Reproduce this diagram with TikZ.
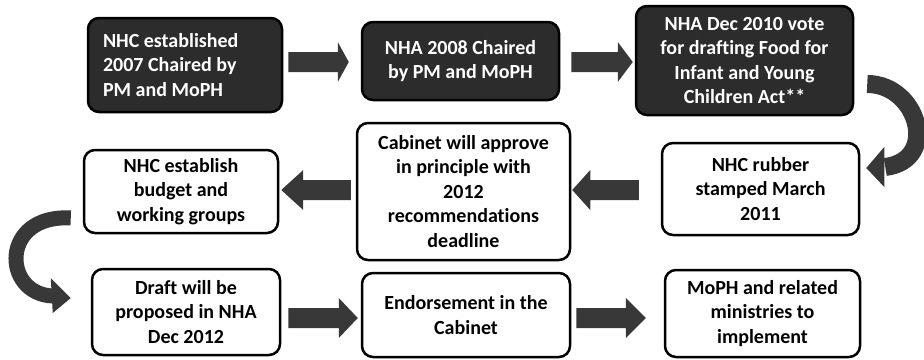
\documentclass[tikz,border=0pt]{standalone}
\usepackage{fontspec}
\setmainfont{Carlito}[Ligatures=NoCommon]
\usetikzlibrary{calc}
\definecolor{darkbox}{HTML}{2C2C2C}
\definecolor{arrowfill}{HTML}{383838}
\tikzset{
  box/.style={rectangle, rounded corners=11pt, line width=2.5pt, draw=black,
    align=center, font=\bfseries\fontsize{20}{24.5}\selectfont, inner sep=0pt},
  darkbox/.style={box, fill=darkbox, text=white},
  whitebox/.style={box, fill=white, text=black},
  band/.style={draw=arrowfill, line width=#1, line cap=butt},
  headfill/.style={fill=arrowfill},
}
\newcommand\harrow[3]{%
  \fill[arrowfill] let \p1=(#1), \p2=(#2), \p3=($(#2)!#3!(#1)$) in
    (\x1,\y1+10pt) -- (\x3,\y1+10pt) -- (\x3,\y1+20pt) -- (\x2,\y1)
    -- (\x3,\y1-20pt) -- (\x3,\y1-10pt) -- (\x1,\y1-10pt) -- cycle;}
\begin{document}
\begin{tikzpicture}[x=1pt,y=-1pt]
\useasboundingbox (0,0) rectangle (924,359);
% top row (dark)
\node[darkbox, minimum width=194pt, minimum height=94pt, text width=164pt, align=flush left] (b1) at (185,65)
  {NHC established\\2007 Chaired by\\PM and MoPH};
\node[darkbox, minimum width=197pt, minimum height=78pt] (b2) at (460.5,61)
  {NHA 2008 Chaired\\by PM and MoPH};
\node[darkbox, minimum width=217pt, minimum height=109pt] (b3) at (744.5,60.5)
  {NHA Dec 2010 vote\\for drafting Food for\\Infant and Young\\Children Act**};
% middle row
\node[whitebox, minimum width=197pt, minimum height=92pt] (b4) at (760.5,189)
  {NHC rubber\\stamped March\\2011};
\node[whitebox, minimum width=213pt, minimum height=137pt] (b5) at (463.5,191.5)
  {Cabinet will approve\\in principle with\\2012\\recommendations\\deadline};
\node[whitebox, minimum width=194pt, minimum height=83pt] (b6) at (181,191.5)
  {NHC establish\\budget and\\working groups};
% bottom row
\node[whitebox, minimum width=188pt, minimum height=86pt] (b7) at (186,312)
  {Draft will be\\proposed in NHA\\Dec 2012};
\node[whitebox, minimum width=208pt, minimum height=84pt] (b8) at (466,315)
  {Endorsement in the\\Cabinet};
\node[whitebox, minimum width=195pt, minimum height=87pt] (b9) at (762.5,313.5)
  {MoPH and related\\ministries to\\implement};
% straight block arrows
\harrow{$(b1.east)+(5,-3)$}{$(b2.west)+(-12,0)$}{11pt}
\harrow{$(b2.east)+(11,1)$}{$(b3.west)+(-2,0)$}{15pt}
\harrow{$(b4.west)+(-22,1)$}{$(b5.east)+(1,0)$}{18pt}
\harrow{$(b5.west)+(-5,-1.5)$}{$(b6.east)+(2,0)$}{22pt}
\harrow{$(b7.east)+(7,6)$}{$(b8.west)+(-3,0)$}{19pt}
\harrow{$(b8.east)+(5,3)$}{$(b9.west)+(-18,0)$}{20pt}
% curved arrow b3 -> b4
\coordinate (r1) at ($(b3.east)+(13,23.5)$);
\coordinate (r2) at ($(b4.east)+(25,-22)$);
\coordinate (rt) at ($(b4.east)+(6,-21)$);
\draw[band=18pt] (r1) .. controls (918,84) and (940,160) .. (r2);
\fill[headfill] ($(r2)+(-1,-20)$) -- (rt) -- ($(r2)+(-1,20)$) -- cycle;
% curved arrow b6 -> b7
\coordinate (l1) at ($(b6.west)+(-12,26.5)$);
\coordinate (l2) at ($(b7.west)+(-38,-16)$);
\coordinate (lt) at ($(b7.west)+(-20,-14)$);
\draw[band=15pt] (l1) .. controls (0,214) and (2,294) .. (l2);
\fill[headfill] ($(l2)+(-2,-18)$) -- (lt) -- ($(l2)+(0,17)$) -- cycle;
\end{tikzpicture}
\end{document}
